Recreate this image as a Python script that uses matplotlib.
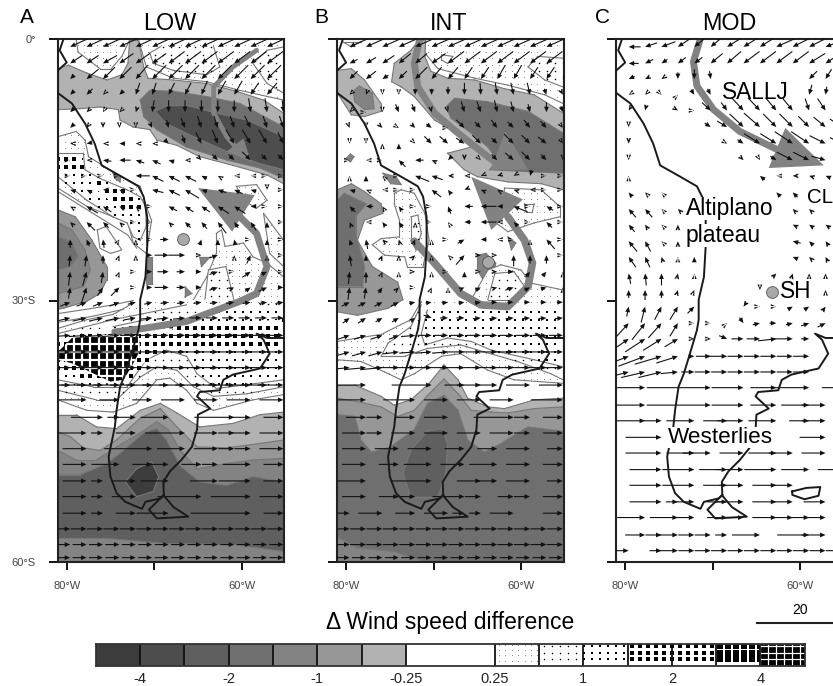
import numpy as np
import matplotlib
matplotlib.use("Agg")
import matplotlib.pyplot as plt
from matplotlib.lines import Line2D
from matplotlib.path import Path
from matplotlib.patches import Polygon

plt.rcParams['font.family'] = ['Liberation Sans', 'DejaVu Sans']

n = np.nan
W, H = 833, 686

# wind grid
lons = [-79.6 + 1.875 * i for i in range(14)]
lats_ab = [-0.9, -2.8, -4.6, -6.4, -8.4, -10.2, -12, -13.9, -15.7, -17.3, -19.2, -21, -23, -24.8, -26.7, -28.5,
           -30.2, -32, -34, -35.9, -37.7, -39.7, -41.4, -43.4, -45.2, -47, -48.8, -50.7, -52.5, -54.4, -56.2, -58, -59.5]
lats_c = [-0.9, -2.8, -4.6, -6.4, -8.2, -10.1, -12, -13.9, -15.7, -17.6, -19.5, -21.3, -23.2, -25, -26.9, -28.8,
          -30.7, -32.6, -34.4, -36.4, -38.2, -40, -42, -43.8, -45.7, -47.5, -49.4, -51.2, -53.1, -54.9, -56.9, -58.7]

u_a = [
 [-5.4]*14,
 [-3,-3,-3.5,-3.5,-3.5,-3.5,-4,-4,-4,-4,-4,-4,-4,-4],
 [-1,-3,-3,-3,-3,-3.5,-3.5,-3.5,-3.5,-3.5,-3.5,-3.5,-3.5,-3],
 [-1,-1.5,-.5,-1,-1,-1,-1.5,-1.5,-1.5,-2,-2,-2,-2.5,-2],
 [-1,-.7,-.3,-.5,-.3,-.5,0,0,0,0,0,.5,.5,.3],
 [-1,-.5,0,0,0,.5,.5,1,1,1,1,1.5,1,1],
 [-.5,-1,-.5,-1,-.5,-.5,.7,.5,1,1,1.5,1.5,1.5,1],
 [0,-.5,-1.5,-2,-1.5,-1.5,-1,-.5,.5,1,1,1.5,1,1],
 [0,0,0,0,-2.5,-2,-2,-2,-1,-.5,-.3,-.2,.2,0],
 [-1,-1,-1,-1,0,-2,-2,-2.5,-1,-1.5,-1.5,-1,0,0],
 [-.5,-2,-1.5,-1,-.5,0,-1.5,-1.5,-1.5,-2,-2,-1,0,0],
 [-.5,-1.5,-1,-.5,0,0,-.5,-1,-1,-1.5,-.7,-1,0,0],
 [0,-.5,-.2,.2,0,0,1.5,0,.3,0,-.2,0,0,0],
 [.2,.3,0,.2,0,1,2.5,3,.5,1.5,0,.7,0,0],
 [.3,.7,.3,.2,0,1,2,1.5,1,1.5,0,1.5,1,0],
 [.3,1,1,1.5,0,1,2.5,1.5,1,1.5,.7,1,1.5,1],
 [2.5,2.5,2.5,2.5,2,2,2,2,2,2,2,2,2,2],
 [3.5,3.5,3.5,3.5,3,3,3,3,3,3,3,3,3,3],
 [4.5,4.5,4.5,4.5,4,4,4,4,4,4,4,4,4,4],
 [5]*14,
 [5.5]*14,
 [6.5]*14,
 [n,7,n,5,n,5,n,6,n,6,n,6,n,6],
 [n,n,8,3,5,n,7,n,n,n,10,5,n,5],
 [n,7,3,n,5,n,n,10,n,6,4,5,n,6],
 [n,6,n,n,n,12,n,7,n,6,4,4,n,6],
 [n,6,n,7,n,5,5,n,5,4,n,7,n,5],
 [n,6,3,n,6,n,7,n,n,7,n,8,n,5],
 [n,6,3,n,6,n,n,n,11,n,n,10,n,6],
 [n,6,3,n,5,n,8,n,n,n,n,15,n,5],
 [5,4,4,4,4,4,4,4,4,4,4,4,4,4],
 [3.5]*14,
 [3.5]*14,
]
v_a = [
 [-2.5]*14,
 [-2,-2,-2,-2.5,-2.5,-2.5,-3,-3,-3,-3,-3,-3,-3,-3],
 [-1,-2.5,-3,-3,-3.5,-3.5,-3.5,-3.5,-3.5,-3.5,-3.5,-3.5,-3.5,-3],
 [-1,-1.5,-.5,-1,-3,-3,-3,-3,-3.5,-3.5,-3.5,-3,-3,-3],
 [-1,-.7,-.5,-.5,-1,-3,-3,-3,-3,-3,-3,-3.5,-3.5,-3],
 [-1,-.7,-1,-.7,-.5,-1,-2,-2.5,-3,-3,-3,-3,-3,-3],
 [0,-.2,0,0,0,0,-.7,-1.5,-2,-2.5,-2.5,-2.5,-2.5,-2],
 [0,0,.2,0,.5,.7,.3,0,-.5,-1,-1,-1.5,-1,-1],
 [0,0,0,0,0,1,1,1,.5,.3,0,0,0,0],
 [.3,.5,0,.5,0,.5,1,1.5,.3,.5,.7,.3,-.5,0],
 [.3,1.2,1,.5,.5,0,.8,1,1,1.3,1.3,0,0,0],
 [.5,1.5,1,.5,0,0,.5,1,1.2,2,1,1.5,1,0],
 [1.5,1.2,1.5,.3,.5,0,0,0,1,1,1,0,1,0],
 [2,2,1.5,.5,.5,0,0,0,0,.5,.5,1.5,.3,0],
 [2.5,2.5,2,.5,0,0,0,0,0,.5,0,1,.5,0],
 [2,3,1.5,1.5,0,0,0,0,0,.5,.3,.7,.7,0],
 [1,1,1,1,.5,.5,.3,.3,.3,.3,.3,.3,.3,.3],
 [.8,.8,.8,.7,.5,.3,.3,.3,0,0,0,0,0,0],
 [.3,.3,.3,.3,0,0,0,0,0,0,0,0,0,0],
] + [[0]*14 for _ in range(14)]

u_b = [
 [-4.5]*14,
 [-2,-2.5,-3,-3,-3,-3.5,-4,-4,-4,-4,-4,-4,-4,-4],
 [-2,-2.5,-1.5,-2,-3,-2.5,-2.5,-2,-2,-2,-2,-2,-2,-2],
 [-.5,-.3,0,0,0,0,0,0,.2,.5,.7,.7,.5,.5],
 [-.5,0,0,.8,.8,.2,.2,.8,1,.7,.7,.5,0,.5],
 [.3,0,.7,.5,.8,1.3,0,2,1.5,1.5,1.5,1.5,1.5,.5],
 [0,0,0,0,.3,1.3,1.5,1.5,1.5,1,1.7,1.5,1.5,.3],
 [0,-.3,0,-1.2,-1.5,-.7,-.7,0,.3,1,1.5,1.5,1,0],
 [0,0,-.3,0,-2.5,-2,-.7,-.5,-.5,-.7,-.5,-.3,0,0],
 [-1,-.5,-.3,0,0,-1.7,-.5,-.7,-.7,-.5,-.7,-.5,0,0],
 [-1,-1.3,-.3,-.5,0,0,-.5,-1.5,-2.8,-1,-2.5,0,-1.2,0],
 [-.3,-.3,-.5,-.7,0,0,-.2,-1.2,-2.8,-.5,-.7,0,-1,0],
 [-.3,-.3,-.5,-.2,.3,0,0,1.2,-1,-.3,0,0,-1.5,0],
 [-.3,0,.3,0,.5,0,-.3,1.5,.7,.5,0,0,0,0],
 [.2,0,.2,0,.5,0,0,0,.3,.7,1,.8,.7,0],
 [.3,.3,.7,.5,.2,.2,0,.7,1,.7,1.5,1,1,0],
 [2,2,2,2,1.5,1.5,1.5,1.5,1.5,1.5,1.5,1.5,1.5,1.5],
 [1.7,2,1.7,1.7,1,2,2,2,2,2,2,2,2,2],
 [3,3,3,2.5,3.5,3.5,3.5,3.5,3.5,3.5,3.5,3.5,3.5,3.5],
 [3.5,3.5,3.5,4,4,4,4,4.5,4.5,4.5,5,5,5,5],
 [5.5,5.5,5.5,6,6,6,6,6,6,6,6,6,6,6],
 [n,8,n,n,n,10,n,5,6,5,n,6,n,6],
 [n,7,n,n,8,n,6,n,6,n,6,n,n,8],
 [n,5,4,n,5,n,6,n,n,n,10,4,n,5],
 [n,6,4,n,6,n,6,n,6,n,6,4,n,5],
 [n,6,n,6,n,6,n,5,n,5,n,6,n,4],
 [n,6,n,5,n,7,n,6,n,7,n,6,n,5],
 [n,7,n,n,n,10,n,n,6,5,n,6,n,4],
 [n,6,n,5,5,n,n,8,4,n,4,4,n,5],
 [4,n,6,n,5,n,6,3,3,n,6,n,n,5],
 [4]*14,
 [4]*14,
 [3.5]*14,
]
v_b = [
 [-2]*14,
 [-1,-1.5,-2,-2.5,-2.5,-2.5,-3,-3,-3,-3,-3,-3,-3,-3],
 [-2,-2,-1,-2,-3,-3,-3,-3,-3,-3.5,-3.5,-3,-3,-3],
 [-.5,-.8,-.5,-.5,-1.5,-1.5,-2,-3,-3,-3,-3,-3,-1.5,-1],
 [-.5,0,-.5,-2,-2,-1,-.7,-2.7,-2.7,-3,-2.7,-2,-2.5,-1.5],
 [-.8,-.3,-.7,-.3,-.8,-1,0,-2,-1.5,-2,-1.5,-2,-1.7,-.7],
 [-.3,-.3,.5,1,-.3,-1.3,-1.3,-1,-1.5,-1,-1.7,-1.5,-1.2,-.5],
 [0,0,0,1.2,0,.3,-.7,-.7,-.3,-1,-1.3,-1.5,-1,-.5],
 [.3,1,.3,0,1,.7,0,0,-.2,-.2,-.3,-1,0,0],
 [.3,.2,0,0,0,1.3,.7,-.3,.3,.3,.2,0,0,0],
 [1,0,.5,.7,0,0,1.3,0,0,0,1,0,.7,0],
 [.7,0,.7,1,.5,0,.3,0,0,0,.7,0,1,0],
 [1,1.7,.5,.7,.7,.3,0,.7,0,0,0,.3,1.7,0],
 [2,1,.7,.5,.5,.3,.3,1.7,0,0,2,1.5,1.5,0],
 [2.2,2,.5,.3,0,.3,0,1,0,0,0,1,.8,.3],
 [2.2,2,1,.5,0,.5,.3,.3,.5,.2,.5,.5,.3,.3],
 [1,1,1,1,.3,.2,.2,.2,.2,0,0,0,0,0],
 [1.3,1.3,1,1,.7,-.7,0,0,.2,.2,.2,.2,.2,.2],
 [1,1,1,1,.3,0,0,0,0,0,0,0,0,0],
 [1,1,1,.5,.3,.3,.3,0,0,0,0,0,0,0],
 [.5,.5,.5,0,0,0,0,0,0,0,0,0,0,0],
] + [[0]*14 for _ in range(12)]

u_c = [
 [-3,-3,-3.5,-3,-2.5,-3,-4,-4,-4,-4.5,-4,-4,-4,-4],
 [-2.5,-2,-1.5,-2,-2,-3,-3.5,-4,-4,-4,-4,-4,-3,-2.5],
 [-1.5,-1,-.7,0,0,.3,n,n,n,n,n,-2,-1.5,-2],
 [-.5,-.5,.3,.2,.8,.8,n,n,n,n,n,-.7,-.3,-.5],
 [-.5,-.3,n,.8,.3,2.2,1.5,3,3,2.7,2.5,1,2,2],
 [0,n,n,n,n,1.5,2.5,3.5,4,3.3,3.3,2.7,3,3],
 [0,n,n,n,n,n,.5,1.5,4,4,4.5,4.5,4,3],
 [0,n,n,n,n,n,n,.7,.3,1.5,4,4,3.5,2],
 [0,n,n,n,n,n,n,n,-1.2,-.3,-1,-1,-1.2,-1],
 [-.8,-.5,-.2,n,n,n,n,n,n,-1,-1.2,n,n,n],
 [-1.8,-1.8,-.3,-.7,n,n,n,n,n,n,-.7,-.7,n,n],
 [-1.5,-.6,-.3,0,0,n,n,n,n,n,-1,-1,-1,-.7],
 [-2.1,-1.4,-.3,0,n,n,n,n,n,n,-2,-1,-.7,-.5],
 [-1.8,-1.2,-.3,0,0,n,n,n,n,n,-1.2,-.7,-.5,-.5],
 [-.5,-.3,0,.2,0,n,n,n,n,.8,.3,0,0,0],
 [0,0,0,.3,.3,n,n,n,0,n,n,n,0,n],
 [.5,1,1.7,2,1.7,n,n,-.7,0,0,1.2,1.2,.7,.5],
 [3,3.3,3.3,2,0,0,0,1,1.8,1.7,1.7,2,2,1.5],
 [4.2,5,4.6,3.3,.7,.7,2,3,3.3,4.6,5,2,n,n],
 [5,6.7,6.7,5.4,1.5,3.7,5.4,4,4,4,4,4,n,n],
 [6.7,6,5.8,4.3,3.3,4,4,4,4,4,4,4,n,n],
 [n,7,n,n,n,16,n,8,n,6.5,n,9,n,5],
 [n,7.5,n,n,n,16,n,8,n,6.5,n,7,6,n],
 [n,8,4.5,n,7,n,6,6.5,n,7,n,5,6,n],
 [n,n,9,n,n,n,n,n,n,n,n,n,6.5,n],
 [n,n,9,n,7,7,n,6,n,7,6,n,6,n],
 [n,n,8,n,8,n,7,7,n,8,n,7,n,6],
 [n,n,8,n,8,n,6,6,n,6,5.5,n,n,n],
 [n,n,8,3,5,n,5,7,n,6,5,n,5.5,n],
 [n,7,n,7,5,n,5,5,n,6,5,5,4.5,n],
 [n,5,4,5,4,4,3,n,7,n,n,8,6,n],
 [4.5,n,3,5,4,4,4,4,4,4,4,4,4,4],
]
v_c = [
 [0,-1,-1.3,-2,-2,-2.5,-2.5,-2.5,-2.5,-2,-2,-2,-1.5,-1],
 [0,-1,-1,-1.5,-1.5,-2.5,-3,-3,-3,-3,-3,-2.5,-2,-1.5],
 [-.7,-.5,-.5,-1.7,-2.5,-2,n,n,n,n,n,-2,-2.5,-2],
 [-.3,-.5,-.3,.2,-1.3,-1.5,n,n,n,n,n,-2.5,-2,-2],
 [-.8,-1.2,n,-.5,0,-2,-2,-3.2,-3.2,-3.2,-3,-3,-3,-2.5],
 [-.7,n,n,n,n,-1,-1.5,-3.3,-3.5,-3.3,-3.3,-2.7,-2.5,-2],
 [-1,n,n,n,n,n,-.3,-1,-2.5,-2.5,-3,-3,-2,-1.5],
 [-.5,n,n,n,n,n,n,-.7,-.5,-1,-2,-2,-1,-.5],
 [.3,n,n,n,n,n,n,n,1,0,0,.3,.5,.5],
 [1,.5,.2,n,n,n,n,n,n,1,1.2,n,n,n],
 [2.1,2.1,.3,.7,n,n,n,n,n,n,.7,.7,n,n],
 [1.8,.9,.3,1,.7,n,n,n,n,n,.5,.7,.7,.7],
 [2.6,2.6,.3,1,n,n,n,n,n,n,.5,1,1,1],
 [2.6,2.6,1,.3,1.3,n,n,n,n,n,.5,.7,1,1],
 [2.6,3,3,1,.3,n,n,n,n,.8,1,.7,.7,.7],
 [2,2.5,2,1,.7,n,n,n,-.7,n,n,n,.7,n],
 [2.5,4,3.3,3.3,1.7,n,n,-1,0,0,.7,.8,1,.3],
 [3.3,4.2,3.7,3.3,0,0,.2,-1.4,.4,0,.4,.7,1,.5],
 [2.9,3.3,2.9,2,0,0,-.8,0,0,.5,0,0,n,n],
 [1.9,2.5,2,1.7,0,0,0,0,0,0,0,0,n,n],
 [1.7,1.4,1.4,.4,0,0,0,0,0,0,0,0,n,n],
] + [[0]*14 for _ in range(11)]

# rows of A and B read too short in the first pass
gain_rows = (6, 16)
gain = 1.4

# coast, lon/lat
coast_west = [(-80.4,-.1),(-80.8,-1.3),(-80,-2.7),(-81,-3.6),(-81.6,-5),(-81,-6.2),(-79.4,-7.4),(-77.9,-9.7),(-76.8,-12),(-76,-14.5),(-73.7,-15.8),
              (-71.8,-16.9),(-71.2,-18.1),(-70.8,-20.4),(-70.8,-23.8),(-71,-27.3),(-71.6,-29.9),(-71.6,-32.2),(-71.8,-33.4),(-72.6,-36.1),(-73.3,-38.4),
              (-73.9,-39.9),(-74.3,-42.6),(-74.5,-44.5),(-75.2,-47.9),(-75,-50.2),(-74.3,-52.1),(-73.3,-53.1),(-71.4,-53.9),(-71,-53.1),(-69.3,-52.7),(-68.9,-52.3)]
coast_east = [(-68.9,-52.3),(-68.95,-50.8),(-68.2,-49.6),(-66.9,-48.3),(-65.7,-46.8),(-65.1,-44.8),(-65,-43.1),(-63.6,-42.4),(-65.1,-41),(-64.8,-40.5),
              (-62.5,-40.3),(-62.1,-39.1),(-61,-38.5),(-57.9,-37.8),(-56.8,-36.1),(-57.5,-34.5),(-58.3,-33.8),(-57.1,-34.3),(-55.2,-34.3),(-53,-34)]
fuego = [(-68.9,-52.3),(-70.6,-54),(-69.7,-55),(-66.1,-54.8),(-67.8,-53.7),(-68.8,-52.5)]
falkland = [(-60.9,-51.9),(-59.3,-51.5),(-57.7,-51.4),(-57.9,-52.4),(-59.5,-52.8),(-60.9,-52.3),(-60.9,-51.9)]

# shaded regions: class in the legend (-7..7), outline lon/lat
shade_a = [
 (1, [(-78.9,-.1),(-78.7,-1.5),(-76.2,-3.4),(-74.9,-3.4),(-73.7,-2),(-72.8,-.1)]),
 (1, [(-71.8,-.1),(-70.9,-3.2),(-67.8,-4.5),(-64,-4.9),(-60.2,-5.9),(-55.2,-7),(-55.2,-.1)]),
 (2, [(-70.5,-1.6),(-69.3,-.9),(-63.2,-.9),(-62.5,-3.2),(-64,-4.1),(-67.8,-3.6),(-70.1,-2.8)]),
 (2, [(-58.7,-2.8),(-57.1,-1.3),(-55.2,-.9),(-55.2,-6.2),(-57.1,-5.1)]),
 (-1, [(-81,-3.4),(-79.8,-3),(-77.7,-3.9),(-75.4,-4.7),(-73.7,-4.1),(-73,-2.8),(-72.8,-.1),(-71.8,-.1),(-71.2,-3.2),(-70.7,-4.5),(-67.8,-4.7),(-64,-5.1),
       (-60.6,-6),(-57.5,-7),(-55.2,-8.5),(-55.2,-16.6),(-57.1,-15.6),(-61,-14.5),(-64.8,-13.5),(-67.4,-12.2),(-69.7,-11.6),(-70.5,-10.4),(-72.4,-10.1),
       (-73.9,-9.3),(-74.1,-8.1),(-76.2,-7.8),(-78.5,-8),(-81,-8.1)]),
 (-4, [(-71.6,-7),(-70.5,-5.9),(-67.8,-6),(-64,-6.6),(-60.2,-7.4),(-55.2,-10.1),(-55.2,-16),(-57.9,-14.8),(-61.7,-13.9),(-66.3,-12.4),(-69.7,-10.4),(-71.2,-8.9)]),
 (-6, [(-69.9,-8.3),(-68.6,-7.7),(-66.3,-7.6),(-62.9,-8.5),(-59.4,-9.3),(-55.2,-11.2),(-55.2,-15),(-57.9,-14.3),(-61.7,-12.9),(-65.5,-11.2),(-68.6,-9.7)]),
 (1, [(-81,-11.2),(-78.9,-10.6),(-77.9,-11.6),(-77.5,-13.5),(-76.2,-14.3),(-74.5,-15.4),(-71.6,-16.9),(-70.9,-19.2),(-70.3,-20.8),(-70.9,-24.6),(-72.4,-23.4),
      (-73,-21.1),(-74.7,-20.4),(-77.7,-19.2),(-81,-17.1)]),
 (3, [(-81,-13.1),(-78.1,-13.1),(-77.9,-15),(-76.2,-16),(-73.1,-17.3),(-71.6,-18.1),(-71,-19.2),(-70.9,-21.5),(-71.6,-23.1),(-72.4,-22.7),(-73.1,-21.1),
      (-74.7,-20.4),(-77.7,-18.5),(-81,-15.8)]),
 (5, [(-81,-13.5),(-78.3,-13.3),(-78.1,-15.4),(-81,-15.6)]),
 (5, [(-77.3,-15.8),(-75.4,-16.9),(-72.8,-17.5),(-71.4,-19.2),(-72,-20),(-74.7,-18.9),(-77,-16.9)]),
 (-2, [(-81,-19.6),(-79,-20.4),(-77.1,-23.1),(-75.4,-26.1),(-75.4,-27.6),(-76.2,-29.2),(-77.7,-30.1),(-80.4,-30.9),(-81,-31)]),
 (-3, [(-81,-21.1),(-79.4,-21.9),(-77.9,-24.2),(-77.3,-26.5),(-78.1,-28.4),(-81,-29.2)]),
 (-4, [(-81,-22.7),(-79.4,-23.3),(-78.7,-25),(-79.6,-26.1),(-81,-26.5)]),
 (1, [(-65.5,-29.9),(-64,-27.3),(-62.9,-24.6),(-62.9,-22.3),(-62.3,-21.9),(-61.9,-23.8),(-59.8,-23.4),(-58.7,-25),(-57.1,-25.7),(-55.2,-27.3),(-55.2,-31),(-66,-31)]),
 (2, [(-64.2,-29.9),(-63.8,-26.5),(-61.8,-26.1),(-60.9,-29.9)]),
 (1, [(-60.6,-16.9),(-58.3,-16.7),(-57.1,-18.5),(-58.3,-19.4),(-59.8,-18.5)]),
 (1, [(-57.5,-20),(-55.2,-23.1),(-55.2,-26.1),(-56.8,-24.6)]),
 (-3, [(-70.9,-25),(-70.3,-25),(-70.3,-28.1),(-70.9,-28.1)]),
 (-3, [(-64.8,-25),(-63.6,-25),(-64.6,-26.1)]),
 (-3, [(-66.5,-28.4),(-65.7,-29.2),(-66.5,-29.6)]),
 (-3, [(-74.7,-15.4),(-73.8,-15.8),(-73.9,-16.4),(-74.5,-16)]),
 (1, [(-81,-33.2),(-77.7,-32.2),(-74.7,-31.6),(-72.4,-30.3),(-64.8,-29.9),(-55.2,-29.9),(-55.2,-40.8),(-58.7,-41.4),(-63.2,-42.6),(-65.1,-41.8),(-66.3,-40.3),
      (-68.2,-38.9),(-69.7,-39.1),(-72,-41.8),(-74.7,-42.8),(-77.7,-42.6),(-81,-41.4)]),
 (2, [(-81,-33.8),(-74.7,-32.2),(-71.2,-31.5),(-66.3,-30.5),(-55.2,-30.3),(-55.2,-39.9),(-59.4,-40.7),(-63.2,-41),(-65.5,-39.9),(-67.4,-38),(-69.7,-37.6),
      (-71.6,-38.8),(-74.3,-41.4),(-76.6,-41.4),(-81,-40.3)]),
 (3, [(-81,-34.2),(-74.7,-33),(-70.5,-32.1),(-64,-31.3),(-55.2,-30.9),(-55.2,-39.1),(-59,-39.6),(-62.9,-40.1),(-65.1,-38.4),(-66.3,-36.4),(-68.6,-35.7),(-70.9,-36.8),
      (-73.1,-39.9),(-77,-39.9),(-81,-39.1)]),
 (4, [(-81,-34.5),(-74.7,-33.2),(-67.8,-32.8),(-55.2,-32.2),(-55.2,-35.7),(-65.1,-35),(-68.6,-35),(-71.2,-37.2),(-73.1,-39.3),(-76.6,-39.1),(-81,-38)]),
 (5, [(-81,-34.7),(-74.7,-33.2),(-67.8,-33.2),(-68.6,-34.1),(-70.9,-36.1),(-71.6,-37.6),(-73.1,-39.5),(-76.2,-39.5),(-78.5,-38.2),(-81,-37.2)]),
 (7, [(-81,-35.9),(-79.4,-34.3),(-74.7,-33.8),(-71.8,-33.8),(-71.6,-35.7),(-72.6,-37.6),(-73.5,-39.1),(-75,-39.3),(-77.3,-38.2),(-79.4,-37.2),(-81,-36.8)]),
 (-1, [(-81,-43.1),(-78.9,-43.1),(-76.6,-44.5),(-74.3,-44.7),(-71.6,-42.6),(-69.3,-41.8),(-67.4,-42.9),(-64.8,-44.5),(-61,-44.1),(-57.9,-43.1),(-55.2,-42.8),(-55.2,-60),(-81,-60)]),
 (-2, [(-81,-45.1),(-79.6,-45.6),(-78.1,-46.9),(-76.2,-47.2),(-74.3,-46),(-71.6,-43.5),(-69.3,-42.4),(-67.4,-44.5),(-65.1,-46.8),(-61.7,-46.9),(-57.9,-46.4),(-55.2,-46),(-55.2,-60),(-81,-60)]),
 (-3, [(-81,-47.2),(-78.9,-48.3),(-76.6,-48.3),(-74.3,-46.8),(-71.6,-45.2),(-69.7,-43.9),(-68.4,-44.8),(-67,-47.2),(-65.1,-49.3),(-61.7,-48.7),(-58.7,-48.3),(-55.2,-48.1),(-55.2,-60),(-81,-60)]),
 (-5, [(-81,-50),(-78.5,-50),(-75.4,-48.7),(-73.5,-47.2),(-71.2,-45.2),(-69.7,-44.7),(-68.6,-46),(-67,-49),(-64.8,-50.8),(-61.7,-51.2),(-58.7,-50.2),(-55.2,-50.8),
       (-55.2,-58.8),(-61,-58),(-64.8,-57.95),(-68.6,-57.9),(-72,-57.6),(-75.4,-57.3),(-81,-57.3)]),
 (-7, [(-73.3,-50.8),(-72,-49.3),(-70.3,-48.5),(-69.5,-50.2),(-70.1,-51.9),(-72,-52.5)]),
]
shade_b = [
 (1, [(-70.9,-.3),(-71,-1.6),(-69.5,-3.4),(-65.3,-4.5),(-61.5,-5.3),(-57.3,-6.4),(-55.2,-7.4),(-55.2,-.1)]),
 (2, [(-59.2,-3.2),(-58.1,-2),(-55.2,-2.2),(-55.2,-5.5),(-57.3,-4.7)]),
 (1, [(-80.4,-.3),(-78.3,-.3),(-79.4,-.9)]),
 (0, [(-69.1,-1.8),(-67.8,-2),(-68.4,-2.8),(-69.1,-2.4)]),
 (-1, [(-74.8,-4.9),(-74.5,-2.8),(-72.6,-1.3),(-71.8,-.3),(-70.9,-.1),(-71,-2),(-70.3,-3.7),(-68.4,-4.5),(-65.3,-4.7),(-61.9,-5.7),(-58.5,-6.4),(-55.2,-8.5),(-55.2,-17.3),
       (-57.7,-16.6),(-61.5,-16.4),(-65,-15.8),(-66.5,-15),(-68.4,-13.1),(-65.7,-12.4),(-68,-10.4),(-69.9,-9.3),(-72.2,-6.6),(-73.7,-5.5)]),
 (-4, [(-68.6,-7.8),(-67.6,-6.8),(-63.8,-7.2),(-59.2,-8.3),(-55.2,-10.8),(-55.2,-15.4),(-59.6,-15.2),(-63.6,-15),(-62.7,-13.9),(-63.8,-12.4),(-65.7,-10.8),(-68,-9.1)]),
 (-1, [(-81,-3.6),(-79.4,-3.4),(-77.9,-4.7),(-76,-7.4),(-76,-8.3),(-77.9,-8.9),(-79.4,-8.7),(-81,-6.2)]),
 (-3, [(-79.2,-6),(-78.5,-5.4),(-77,-6.2),(-76.8,-8),(-77.9,-8.1),(-79,-7.2)]),
 (-3, [(-79.5,-13.2),(-79.1,-13.5),(-79.5,-14.1),(-80,-13.7)]),
 (-2, [(-81,-17.3),(-79.4,-16.6),(-77.9,-17.5),(-76,-18.9),(-75.8,-20),(-77.9,-20.8),(-78.7,-23.1),(-77,-26.1),(-74.1,-27.9),(-73.5,-29.9),(-75.2,-30.9),(-78.7,-31.7),(-81,-31.3)]),
 (-4, [(-81,-18.5),(-80.2,-17.7),(-77.7,-18.9),(-78.9,-20.4),(-78.9,-22.3),(-77.9,-26.1),(-78.1,-28.4),(-81,-28.4)]),
 (-3, [(-75.8,-15.4),(-74.3,-15.8),(-73.7,-16.7),(-74.9,-16.6)]),
 (-3, [(-61.5,-22.7),(-60.6,-23.4),(-61.1,-24.2)]),
 (-3, [(-65,-24.8),(-64,-24.6),(-62.9,-25.7),(-63,-26.5),(-64.4,-27.5),(-65,-26.5)]),
 (1, [(-74.5,-17.7),(-73.7,-17.3),(-72.2,-17.7),(-71,-20),(-70.5,-23.1),(-70.9,-24.6),(-71.2,-26.1),(-73,-26.1),(-73.3,-25),(-75.6,-24.8),(-77,-23.6),(-76,-22.9),
      (-73.9,-22.7),(-73.9,-20.8),(-74.5,-18.9)]),
 (2, [(-72.6,-20.4),(-71.8,-20.2),(-71.4,-22.3),(-72,-24.2),(-72.6,-23.1)]),
 (1, [(-61.9,-17.1),(-57.7,-17.3),(-55.6,-19.2),(-55.6,-20.4),(-58.5,-21.1),(-61.5,-22.1),(-63,-21),(-62,-19)]),
 (0, [(-59.6,-18.9),(-58.5,-18.9),(-58.7,-19.8),(-59.4,-19.8)]),
 (1, [(-65.7,-29.9),(-63.8,-26.5),(-62.3,-25.9),(-60,-26.5),(-58.9,-28),(-55.2,-28.8),(-55.2,-30.7),(-65.7,-30.7)]),
 (2, [(-63.8,-29.9),(-63,-26.9),(-60.8,-26.7),(-59.6,-28.4),(-60.4,-29.9)]),
 (1, [(-81,-34.7),(-78.7,-34.3),(-76,-33.9),(-72.6,-32.2),(-71.4,-30.1),(-55.2,-30.1),(-55.2,-39.5),(-60.8,-39.1),(-63.8,-38),(-66.9,-36.1),(-69.1,-36.4),(-72.2,-38.4),
      (-73.7,-39.1),(-75.6,-38.2),(-78.3,-37),(-81,-36.8)]),
 (2, [(-76,-36.4),(-75.2,-34.9),(-72.6,-33),(-71.4,-30.5),(-55.2,-30.5),(-55.2,-39.1),(-56.6,-38.4),(-60.4,-37),(-64.2,-35.9),(-66.9,-35.1),(-70.7,-35.5),(-73.3,-36.4)]),
 (3, [(-70.7,-31.1),(-55.2,-31.1),(-55.2,-37.6),(-58.5,-36.8),(-63.4,-35.7),(-65.7,-34.7),(-68.4,-34.3),(-71,-35.1),(-71.4,-33.8)]),
 (-1, [(-81,-39.7),(-79,-39.7),(-76,-41),(-74.5,-42),(-72.6,-41.4),(-70.5,-39.5),(-68.8,-37.4),(-67.2,-39.1),(-66.1,-41.2),(-63.8,-42.2),(-61.9,-42.4),(-58.5,-41.4),(-55.2,-41.2),(-55.2,-60),(-81,-60)]),
 (-2, [(-81,-41.2),(-78.7,-41.6),(-76,-42.2),(-74.1,-43.3),(-72.2,-42.6),(-70.7,-40.9),(-68.8,-39),(-67.2,-40.7),(-65.7,-42.6),(-63.4,-42.8),(-61.5,-42.9),(-58.5,-42.4),(-55.2,-42.2),(-55.2,-60),(-81,-60)]),
 (-3, [(-81,-56),(-55.2,-56),(-55.2,-60),(-81,-60)]),
 (-4, [(-81,-43.1),(-79,-43.3),(-78.3,-46),(-77.1,-47.4),(-74.9,-46.8),(-72.2,-44.8),(-70.7,-41.8),(-68.8,-40.9),(-67.2,-42.6),(-66.1,-46),(-64.2,-47.4),(-62.3,-46.4),(-59.2,-44.5),(-55.2,-45),
       (-55.2,-60),(-71,-60),(-74.5,-58.8),(-78.7,-58.4),(-81,-57.1)]),
 (-5, [(-70.7,-45),(-69.1,-44.7),(-68.4,-46.4),(-68.6,-49.8),(-69.5,-52.5),(-72.6,-52.5),(-73.5,-49.8),(-72.6,-47.2)]),
]
# loose contour lines
contour_a = [[(-81,-31.5),(-77.7,-31),(-74.7,-30.5),(-72.4,-30)], [(-81,-32.5),(-77,-31.8),(-73.5,-31)],
             [(-76.5,-21.9),(-75.5,-21.5),(-74.5,-23),(-73.7,-24.2),(-75,-24.6),(-76.2,-24),(-76.5,-21.9)],
             [(-81,-17.5),(-77,-20),(-73,-22.5),(-72,-24)]]

# big grey arrows: path and head
flow_a = [([(-58.3,-1.3),(-61,-3.2),(-63.2,-5.5),(-63.2,-8.5),(-61.7,-11.2),(-60.4,-12.7)], [(-61.7,-12.9),(-58.9,-14.1),(-59.8,-11.4)], 3.5),
          ([(-74.5,-33.6),(-71.2,-33.2),(-66.3,-32.4),(-60.2,-30.1),(-58.3,-29.2),(-57.1,-26.1),(-58.3,-22.3),(-60.6,-20)], [(-65,-17.1),(-58.5,-17.9),(-61.1,-22.1)], 5)]
flow_b = [([(-71.6,-.1),(-72.2,-2.8),(-71.8,-5.5),(-69.9,-8.5),(-67.2,-10.8),(-63.8,-13.5),(-62.7,-14.3)], [(-61.8,-10.6),(-63.5,-15),(-59.2,-15)], 5),
          ([(-72.2,-23.2),(-69.9,-25.7),(-66.9,-29.2),(-64.6,-30.5),(-61.5,-30.7),(-59.2,-28.4),(-58.7,-25.7),(-59.6,-23.1),(-61.5,-20.4)], [(-65.7,-15.8),(-59.8,-18.4),(-63.4,-21.9)], 5.5)]
flow_c = [([(-71.5,-.3),(-72.2,-2.6),(-71.8,-5.4),(-69.9,-8.1),(-66.9,-10.6),(-63,-12.5),(-60,-13.9)], [(-63.6,-14.8),(-57.3,-14.5),(-61.7,-10.2)], 5)]

high_lon = [-66.7, -63.8, -63.2]
high_lat = [-22.9, -25.6, -29]

bar_labels = ['-4', '-2', '-1', '-0.25', '0.25', '1', '2', '4']
bar_label_pos = [1, 3, 5, 7, 9, 11, 13, 15]
bar_classes = [-7, -6, -5, -4, -3, -2, -1, 0, 1, 2, 3, 4, 5, 6, 7]
bar_widths = [1, 1, 1, 1, 1, 1, 1, 2, 1, 1, 1, 1, 1, 1, 1]

greys = {-7: '#3c3c3c', -6: '#4d4d4d', -5: '#5f5f5f', -4: '#6f6f6f', -3: '#838383', -2: '#979797', -1: '#b2b2b2', 0: 'white'}
dot_size = {1: .4, 2: 1.2, 3: 2.6, 4: 4.7, 5: 7, 6: 13}


def add_axes_px(left, top, w, h):
    return fig.add_axes([left / W, 1 - (top + h) / H, w / W, h / H])


def fill_class(ax, pts, level, dx=.92, dy=.92, edge='#777777', lw=.8, grid_lw=1.6):
    pts = np.array(pts)
    bg = greys[level] if level <= 0 else ('black' if level == 7 else 'white')
    patch = Polygon(pts, closed=True, fc=bg, ec='none')
    ax.add_patch(patch)
    # outline, without the long flat pieces along the band tops and the frame
    if lw > 0 and level <= 3:
        for p, q in zip(pts, np.roll(pts, -1, axis=0)):
            if abs(p[0] - q[0]) > 6 and abs(p[1] - q[1]) < 1.5:
                continue
            ax.plot([p[0], q[0]], [p[1], q[1]], color=edge, lw=lw, zorder=1)
    if level <= 0:
        return
    if level == 1:
        dx, dy = dx * .8, dy * .8
    gx = np.arange(np.floor(pts[:, 0].min() / dx), np.ceil(pts[:, 0].max() / dx) + 1) * dx
    gy = np.arange(np.floor(pts[:, 1].min() / dy), np.ceil(pts[:, 1].max() / dy) + 1) * dy
    if level == 7:
        a = ax.vlines(gx, gy[0], gy[-1], color='white', lw=grid_lw, zorder=1)
        b = ax.hlines(gy, gx[0], gx[-1], color='white', lw=grid_lw, zorder=1)
        a.set_clip_path(patch)
        b.set_clip_path(patch)
        return
    xx, yy = np.meshgrid(gx, gy)
    lattice = np.c_[xx.ravel(), yy.ravel()]
    lattice = lattice[Path(pts).contains_points(lattice)]
    ax.scatter(lattice[:, 0], lattice[:, 1], s=dot_size[level], marker='s' if level > 2 else 'o',
               c='#777777' if level == 1 else 'black', linewidths=0, zorder=1)


def draw_panel(left, lats, u, v, shades, flows, contours=(), labelled=False, boost=False):
    ax = add_axes_px(left, 39, 226.6, 523)
    ax.set_xlim(-81.05, -55.15)
    ax.set_ylim(-60, 0)
    for level, pts in shades:
        fill_class(ax, pts, level)
    for c in contours:
        c = np.array(c)
        ax.plot(c[:, 0], c[:, 1], color='#777777', lw=.8, zorder=1)
    for path, head, lw in flows:
        path = np.array(path)
        ax.plot(path[:, 0], path[:, 1], color='#828282', lw=lw, solid_capstyle='round', solid_joinstyle='round', zorder=2)
        ax.add_patch(Polygon(head, closed=True, fc='#828282', ec='none', zorder=2))
    ax.plot(*zip(*coast_west), color='#1a1a1a', lw=1.4, zorder=4)
    ax.plot(*zip(*coast_east), color='#1a1a1a', lw=1.4, zorder=4)
    ax.plot(*zip(*fuego), color='#1a1a1a', lw=1.4, zorder=4)
    uu, vv = np.array(u, float), np.array(v, float)
    if boost:
        uu[gain_rows[0]:gain_rows[1]] *= gain
        vv[gain_rows[0]:gain_rows[1]] *= gain
    small = np.hypot(uu, vv) < .25
    uu[small] = .25
    xx, yy = np.meshgrid(lons, lats)
    ax.quiver(xx, yy, uu, vv, angles='xy', scale_units='xy', scale=2.19, pivot='tip', units='dots',
              width=1.1, headwidth=4.4, headlength=5, headaxislength=5, minshaft=.1, minlength=.1,
              color='#111111', zorder=3)
    for s in ax.spines.values():
        s.set_linewidth(1.5)
        s.set_color('#222222')
    ax.set_xticks([-80, -70, -60])
    ax.set_xticklabels(['80°W', '', '60°W'])
    ax.set_yticks([0, -30, -60])
    ax.set_yticklabels(['0°', '30°S', '60°S'] if labelled else ['', '', ''])
    ax.tick_params(axis='x', length=6, width=1.3, pad=8, labelsize=8, labelcolor='#444444')
    ax.tick_params(axis='y', length=6.5, width=1.3, pad=9, labelsize=8, labelcolor='#444444')
    return ax


fig = plt.figure(figsize=(W / 100, H / 100), dpi=100)
ax_a = draw_panel(57.5, lats_ab, u_a, v_a, shade_a, flow_a, contour_a, labelled=True, boost=True)
ax_b = draw_panel(336.9, lats_ab, u_b, v_b, shade_b, flow_b, boost=True)
ax_c = draw_panel(616, lats_c, u_c, v_c, [], flow_c)
ax_c.plot(*zip(*falkland), color='#1a1a1a', lw=1.4, zorder=4)

for ax, lo, la in zip([ax_a, ax_b, ax_c], high_lon, high_lat):
    ax.plot(lo, la, 'o', ms=8.5, mfc='#a9a9a9', mec='#555555', mew=.6, zorder=5)

white = dict(fc='white', ec='none', pad=0)
ax_c.text(-65.1, -6.1, 'SALLJ', fontsize=16.3, ha='center', va='center', zorder=6)
ax_c.text(-59.2, -18.2, 'CL', fontsize=14.8, ha='left', va='center', zorder=6, bbox=white)
ax_c.text(-73.1, -19.5, 'Altiplano', fontsize=16.5, ha='left', va='center', zorder=6, bbox=white)
ax_c.text(-73.1, -22.6, 'plateau', fontsize=16.5, ha='left', va='center', zorder=6, bbox=white)
ax_c.text(-62.3, -29, 'SH', fontsize=16.3, ha='left', va='center', zorder=6)
ax_c.text(-75.1, -45.7, 'Westerlies', fontsize=16.2, ha='left', va='center', zorder=6, bbox=white)


def fig_text(x, y, s, size, **kw):
    fig.text(x / W, 1 - y / H, s, fontsize=size, ha='center', va='center', **kw)


fig_text(26.5, 17.5, 'A', 15)
fig_text(321.7, 17.5, 'B', 15)
fig_text(603, 17.5, 'C', 15)
fig_text(170, 24, 'LOW', 16.8)
fig_text(449, 24, 'INT', 16.8)
fig_text(729, 24, 'MOD', 16.8)
fig_text(450, 622, 'Δ Wind speed difference', 16.5)
fig_text(800, 610, '20', 10)
fig.add_artist(Line2D([757 / W, 833 / W], [1 - 622.5 / H] * 2, color='#222222', lw=1.5))

# colour bar
bar = add_axes_px(95.7, 644, 709.1, 22)
bar.set_xlim(0, sum(bar_widths))
bar.set_ylim(0, 1)
pos = 0
for level, wd in zip(bar_classes, bar_widths):
    rect = [(pos, 0), (pos + wd, 0), (pos + wd, 1), (pos, 1)]
    fill_class(bar, rect, level, dx=8 / 44.3, dy=.3, edge='none', lw=0, grid_lw=.9)
    bar.plot([pos, pos], [0, 1], color='#111111', lw=1.3, zorder=2)
    pos += wd
for s in bar.spines.values():
    s.set_linewidth(1.3)
    s.set_color('#333333')
bar.set_yticks([])
bar.set_xticks(bar_label_pos)
bar.set_xticklabels(bar_labels)
bar.tick_params(axis='x', length=0, pad=4, labelsize=10.5, labelcolor='#222222')

fig.savefig('out.png', dpi=100)
